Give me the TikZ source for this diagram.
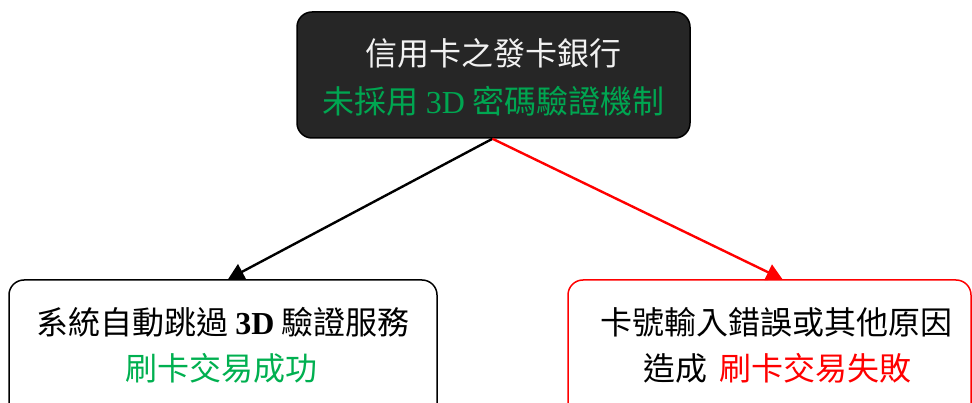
\documentclass[tikz,border=0pt]{standalone}
\usepackage{fontspec}
\setmainfont{Liberation Serif}
\newfontfamily\cjk{Noto Sans CJK TC}
\usetikzlibrary{arrows.meta}
\definecolor{topfill}{HTML}{262626}
\definecolor{toptext}{HTML}{F2F2F2}
\definecolor{topgreen}{HTML}{00A651}
\definecolor{okgreen}{HTML}{00B050}
\definecolor{failred}{HTML}{FF0000}
\tikzset{
  box/.style={rectangle, rounded corners=15pt, line width=1.5pt, inner sep=0pt},
  txt/.style={inner sep=0pt, font=\fontsize{32}{38}\selectfont\cjk},
  link/.style={line width=2.4pt, -{Triangle[length=16pt,width=17pt]}}
}
\begin{document}
\begin{tikzpicture}[x=1pt,y=-1pt]
\useasboundingbox (0,0) rectangle (972,403);
\clip (0,0) rectangle (972,403);
% boxes
\node[box, draw=black, fill=topfill, minimum width=393pt, minimum height=126pt] (top) at (493.5,75) {};
\node[box, draw=black, fill=white, minimum width=428pt, minimum height=160pt] (left) at (223,360) {};
\node[box, draw=failred, fill=white, minimum width=403pt, minimum height=160pt] (right) at (769.5,360) {};
% texts
\node[txt, text=toptext] (t1) at (493.5,53) {信用卡之發卡銀行};
\node[txt, text=topgreen] (t2) at (493.5,101) {未採用 {\rmfamily 3D} 密碼驗證機制};
\node[txt, text=black] (l1) at (223,322) {系統自動跳過 {\rmfamily\bfseries 3D} 驗證服務};
\node[txt, text=okgreen] (l2) at (221,368) {刷卡交易成功};
\node[txt, text=black] (r1) at (776,322) {卡號輸入錯誤或其他原因};
\node[txt, text=black] (r2) at (777,368) {造成\hspace{12pt}\textcolor{failred}{刷卡交易失敗}};
% connectors
\coordinate (lend) at ([xshift=5pt]left.north);
\coordinate (rend) at ([xshift=13pt]right.north);
\draw[link, draw=black, fill=black] ([xshift=-1pt]top.south) -- (lend);
\draw[link, draw=failred, fill=failred] ([xshift=-1pt]top.south) -- (rend);
\end{tikzpicture}
\end{document}
